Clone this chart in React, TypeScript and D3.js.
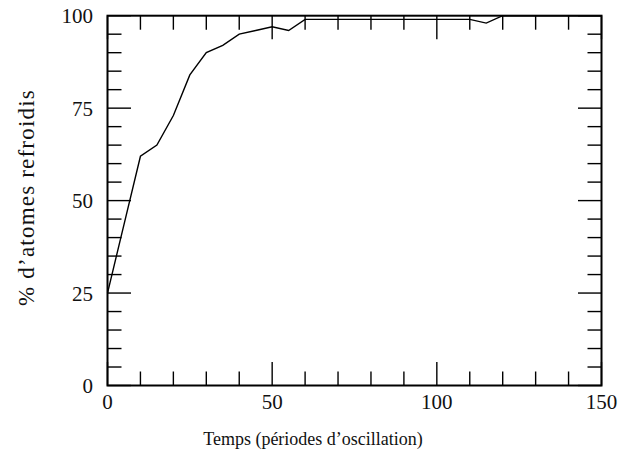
import React from "react";
import * as d3 from "d3";

const periods = [0, 5, 10, 15, 20, 25, 30, 35, 40, 45, 50, 55, 60, 65, 70, 75, 80, 85, 90, 95, 100, 105, 110, 115, 120, 125, 130, 135, 140, 145, 150];
const cooledPct = [25, 43.5, 62, 65, 73, 84, 90, 92, 95, 96, 97, 96, 99, 99, 99, 99, 99, 99, 99, 99, 99, 99, 99, 98, 100, 100, 100, 100, 100, 100, 100];

const xMajorTicks = [0, 50, 100, 150];
const xMinorTicks = [10, 20, 30, 40, 60, 70, 80, 90, 110, 120, 130, 140];
const yMajorTicks = [0, 25, 50, 75, 100];
const yMinorTicks = [5, 10, 15, 20, 30, 35, 40, 45, 55, 60, 65, 70, 80, 85, 90, 95];

const xLabel = "Temps (périodes d’oscillation)";
const yLabel = "% d’atomes refroidis";

const W = 629;
const H = 465;
const L = 107.5;
const R = 601.5;
const T = 15.7;
const B = 385.5;
const MAJ = 23.5;
const MIN = 14;
const FONT = "'Liberation Serif', 'DejaVu Serif', serif";

export default function App() {
  const x = d3.scaleLinear().domain([0, 150]).range([L, R]);
  const y = d3.scaleLinear().domain([0, 100]).range([B, T]);
  const line = d3
    .line<number>()
    .x((_, i) => x(periods[i]))
    .y((d) => y(d));
  const path = line(cooledPct) || "";

  return (
    <svg
      width={W}
      height={H}
      style={{ position: "absolute", left: 0, top: 0, background: "#fff" }}
      fontFamily={FONT}
    >
      <rect x={0} y={0} width={W} height={H} fill="#fff" />
      <path d={path} fill="none" stroke="#000" strokeWidth={1.4} strokeLinejoin="miter" />
      <g stroke="#000" strokeWidth={1.4}>
        {xMajorTicks.map((t) => (
          <g key={"xM" + t}>
            <line x1={x(t)} x2={x(t)} y1={B} y2={B - MAJ} />
            <line x1={x(t)} x2={x(t)} y1={T} y2={T + MAJ} />
          </g>
        ))}
        {xMinorTicks.map((t) => (
          <g key={"xm" + t}>
            <line x1={x(t)} x2={x(t)} y1={B} y2={B - MIN} />
            <line x1={x(t)} x2={x(t)} y1={T} y2={T + MIN} />
          </g>
        ))}
        {yMajorTicks.map((t) => (
          <g key={"yM" + t}>
            <line x1={L} x2={L + MAJ} y1={y(t)} y2={y(t)} />
            <line x1={R} x2={R - MAJ} y1={y(t)} y2={y(t)} />
          </g>
        ))}
        {yMinorTicks.map((t) => (
          <g key={"ym" + t}>
            <line x1={L} x2={L + MIN} y1={y(t)} y2={y(t)} />
            <line x1={R} x2={R - MIN} y1={y(t)} y2={y(t)} />
          </g>
        ))}
      </g>
      <rect x={L} y={T} width={R - L} height={B - T} fill="none" stroke="#000" strokeWidth={2} />
      <g fontSize={21} fill="#111">
        {xMajorTicks.map((t) => (
          <text key={"xl" + t} x={x(t)} y={409} textAnchor="middle">
            {t}
          </text>
        ))}
        {yMajorTicks.map((t) => (
          <text key={"yl" + t} x={93} y={y(t) + 7.5} textAnchor="end">
            {t}
          </text>
        ))}
      </g>
      <text x={313} y={445} textAnchor="middle" fontSize={18} fill="#111">
        {xLabel}
      </text>
      <text
        transform={`translate(34,${197.5}) rotate(-90)`}
        textAnchor="middle"
        fontSize={23}
        letterSpacing={1.2}
        fill="#111"
      >
        {yLabel}
      </text>
    </svg>
  );
}
